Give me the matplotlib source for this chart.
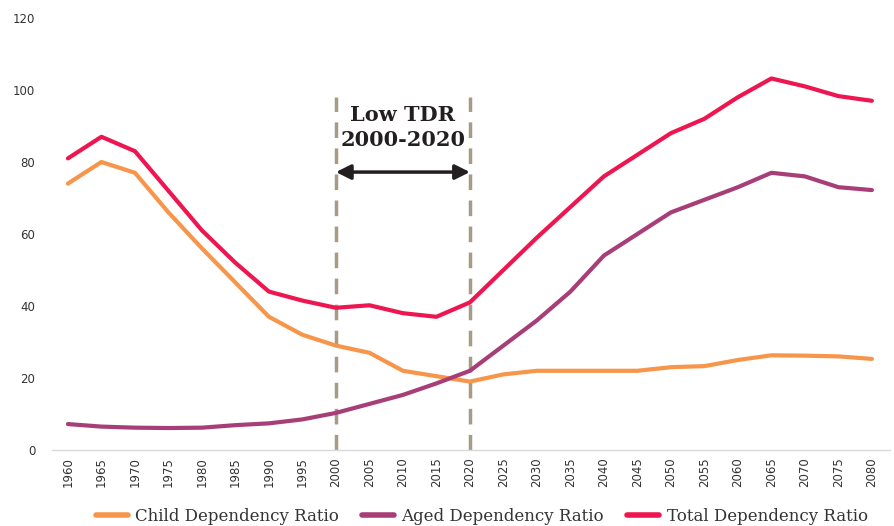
import numpy as np
import matplotlib.pyplot as plt

# data
years = list(range(1960, 2081, 5))
child = [74, 80, 77, 66, 56, 46.5, 37, 32, 29, 27, 22, 20.5, 19, 21, 22, 22, 22,
         22, 23, 23.3, 25, 26.3, 26.2, 26, 25.3]
aged = [7.2, 6.5, 6.2, 6.1, 6.2, 6.9, 7.4, 8.5, 10.3, 12.8, 15.3, 18.5, 22, 29,
        36, 44, 54, 60, 66, 69.5, 73, 77, 76, 73, 72.2]
total = [81, 87, 83, 72, 61, 52, 44, 41.5, 39.5, 40.2, 38, 37, 41, 50, 59,
         67.5, 76, 82, 88, 92, 98, 103.2, 101, 98.3, 97]
low_tdr = [2000, 2020]

c_child = '#F7964A'
c_aged = '#A83E78'
c_total = '#EE1650'
c_dash = '#A89A85'

fig = plt.figure(figsize=(8.94, 5.26), dpi=100)
ax = fig.add_axes([0.058, 0.1445, 0.9375, 0.8213])

ax.plot(years, child, color=c_child, lw=3, solid_capstyle='round', label='Child Dependency Ratio')
ax.plot(years, aged, color=c_aged, lw=3, solid_capstyle='round', label='Aged Dependency Ratio')
ax.plot(years, total, color=c_total, lw=3, solid_capstyle='round', label='Total Dependency Ratio')

for yr in low_tdr:
    ax.plot([yr, yr], [0, 98], color=c_dash, lw=2.5, dashes=(4.5, 3), zorder=1)

ax.annotate('', xy=(low_tdr[0], 77.2), xytext=(low_tdr[1], 77.2),
            arrowprops=dict(arrowstyle='<|-|>', color='#231F20', lw=2.5,
                            mutation_scale=22, shrinkA=0, shrinkB=0))
ax.text(sum(low_tdr) / 2, 89.6, 'Low TDR\n2000-2020', ha='center', va='center',
        fontsize=15, fontweight='bold', family='DejaVu Serif', color='#231F20',
        linespacing=1.3)

ax.set_xlim(1957.6, 2082.7)
ax.set_ylim(0, 120)
ax.set_xticks(years)
ax.set_xticklabels([str(y) for y in years], rotation=90)
ax.set_yticks(range(0, 121, 20))
ax.tick_params(axis='both', length=0, labelsize=8.5, colors='#333333')
ax.tick_params(axis='x', pad=5)
ax.tick_params(axis='y', pad=12)
for s in ['top', 'right', 'left']:
    ax.spines[s].set_visible(False)
ax.spines['bottom'].set_color('#D9D9D9')
ax.spines['bottom'].set_linewidth(1)

leg = fig.legend(loc='lower center', bbox_to_anchor=(0.539, -0.026), ncol=3,
                 frameon=False, handlelength=1.9, handletextpad=0.45,
                 columnspacing=1.4,
                 prop={'family': 'DejaVu Serif', 'size': 12})
for t in leg.get_texts():
    t.set_color('#333333')
for h in leg.get_lines():
    h.set_linewidth(4)

fig.savefig('out.png', dpi=100)
